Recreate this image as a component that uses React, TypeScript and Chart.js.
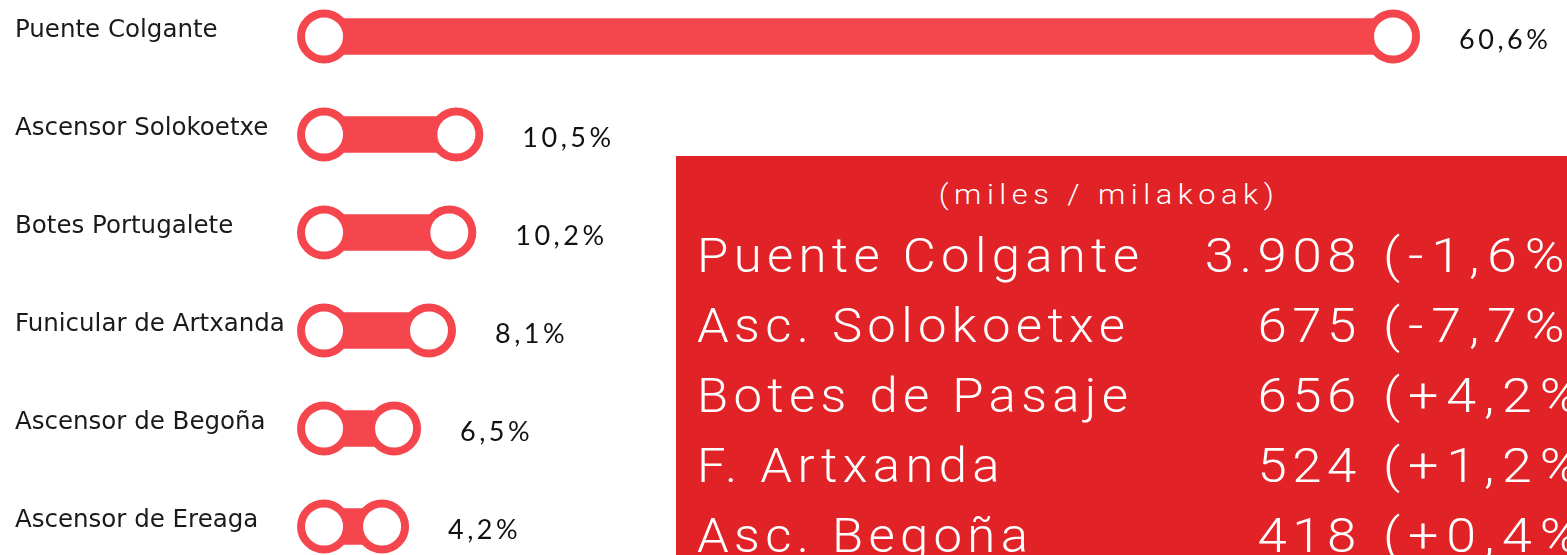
import React, { useEffect, useRef } from "react";
import { Chart, registerables } from "chart.js";

Chart.register(...registerables);

// ---------- data ----------
const categories = [
  "Puente Colgante",
  "Ascensor Solokoetxe",
  "Botes Portugalete",
  "Funicular de Artxanda",
  "Ascensor de Begoña",
  "Ascensor de Ereaga",
];
const shares = [60.6, 10.5, 10.2, 8.1, 6.5, 4.2];
const shareLabels = ["60,6%", "10,5%", "10,2%", "8,1%", "6,5%", "4,2%"];
// dumbbell extent as drawn in the infographic (share units)
const dumbbellEnds = [60.6, 7.5, 7.1, 5.95, 3.97, 3.29];

const boxTitle = "(miles / milakoak)";
const boxNames = ["Puente Colgante", "Asc. Solokoetxe", "Botes de Pasaje", "F. Artxanda", "Asc. Begoña"];
const boxValues = ["3.908", "675", "656", "524", "418"];
const boxChanges = ["(-1,6%)", "(-7,7%)", "(+4,2%)", "(+1,2%)", "(+0,4%)"];

const RED = "#F5464D";
const BOX_RED = "#E12226";

const shareLabelPlugin = {
  id: "shareLabels",
  afterDatasetsDraw(chart: any) {
    const ctx = chart.ctx;
    const meta = chart.getDatasetMeta(2);
    ctx.save();
    ctx.font = "400 27px Lato";
    ctx.fillStyle = "#111";
    ctx.textBaseline = "middle";
    ctx.textAlign = "left";
    (ctx as any).letterSpacing = "3.5px";
    meta.data.forEach((pt: any, i: number) => {
      ctx.fillText(shareLabels[i], pt.x + 66, pt.y + 4);
    });
    ctx.restore();
  },
};

export default function App() {
  const canvasRef = useRef<HTMLCanvasElement | null>(null);

  useEffect(() => {
    document.body.style.margin = "0";
    document.body.style.overflow = "hidden";
    const canvas = canvasRef.current;
    if (!canvas) return;
    const pointStyle = {
      type: "line" as const,
      showLine: false,
      pointRadius: 23,
      pointHoverRadius: 23,
      pointBorderWidth: 8,
      pointHoverBorderWidth: 8,
      pointBackgroundColor: "#ffffff",
      pointBorderColor: RED,
      order: 1,
      clip: false as any,
      indexAxis: "y" as const,
    };
    const chart = new Chart(canvas, {
      type: "bar",
      data: {
        labels: categories,
        datasets: [
          {
            type: "bar",
            data: dumbbellEnds.map((e) => [0, e]) as any,
            backgroundColor: RED,
            barThickness: 36,
            borderSkipped: false,
            order: 2,
            clip: false as any,
          },
          {
            ...pointStyle,
            data: categories.map((c) => ({ x: 0, y: c })) as any,
          },
          {
            ...pointStyle,
            data: categories.map((c, i) => ({ x: dumbbellEnds[i], y: c })) as any,
          },
        ] as any,
      },
      options: {
        indexAxis: "y",
        animation: false,
        responsive: false,
        events: [],
        layout: { autoPadding: false, padding: { left: 15, top: 36.5, bottom: 28.5, right: 0 } },
        plugins: { legend: { display: false }, tooltip: { enabled: false } },
        scales: {
          x: { type: "linear", min: -1.93, max: 70.46, display: false },
          y: {
            type: "category",
            offset: false,
            grid: { display: false },
            border: { display: false },
            ticks: {
              crossAlign: "far",
              color: "#1a1a1a",
              padding: 0,
              labelOffset: -6,
              font: { family: "DejaVu Sans", size: 24.5 },
            },
            afterFit: (s: any) => {
              s.width = 275;
            },
          },
        },
      } as any,
      plugins: [shareLabelPlugin],
    });
    return () => chart.destroy();
  }, []);

  const rowBaselines = [272, 342, 412, 482, 552];
  const bigFont: React.CSSProperties = {
    position: "absolute",
    fontFamily: "Roboto",
    fontWeight: 300,
    fontSize: 48,
    lineHeight: "48px",
    letterSpacing: "5px",
    color: "#fff",
    whiteSpace: "nowrap",
  };
  const BX = 676;
  const BY = 156;

  return (
    <div style={{ position: "fixed", left: 0, top: 0, width: 1567, height: 555, overflow: "hidden", background: "#fff" }}>
      <canvas ref={canvasRef} width={1567} height={555} style={{ position: "absolute", left: 0, top: 0 }} />
      <div
        style={{
          position: "absolute",
          left: BX,
          top: BY,
          width: 891,
          height: 399,
          background: BOX_RED,
          overflow: "hidden",
        }}
      >
        <div
          style={{
            position: "absolute",
            left: 1109 - BX - 300,
            width: 600,
            top: 181 - BY - 6,
            textAlign: "center",
            fontFamily: "Roboto",
            fontWeight: 300,
            fontSize: 28,
            lineHeight: "40px",
            letterSpacing: "5px",
            color: "#fff",
            whiteSpace: "nowrap",
            transform: "scaleX(1.1)",
            transformOrigin: "center",
          }}
        >
          {boxTitle}
        </div>
        {boxNames.map((n, i) => (
          <React.Fragment key={n}>
            <div
              style={{
                ...bigFont,
                left: 697 - BX,
                top: rowBaselines[i] - BY - 40,
                transform: "scaleX(1.06)",
                transformOrigin: "left",
              }}
            >
              {n}
            </div>
            <div
              style={{
                ...bigFont,
                right: 891 - (1362 - BX),
                top: rowBaselines[i] - BY - 40,
                textAlign: "right",
                transform: "scaleX(1.1)",
                transformOrigin: "right",
              }}
            >
              {boxValues[i]}
            </div>
            <div
              style={{
                ...bigFont,
                left: 1383 - BX,
                top: rowBaselines[i] - BY - 40,
                letterSpacing: "7px",
                transform: "scaleX(1.12)",
                transformOrigin: "left",
              }}
            >
              {boxChanges[i]}
            </div>
          </React.Fragment>
        ))}
      </div>
    </div>
  );
}
